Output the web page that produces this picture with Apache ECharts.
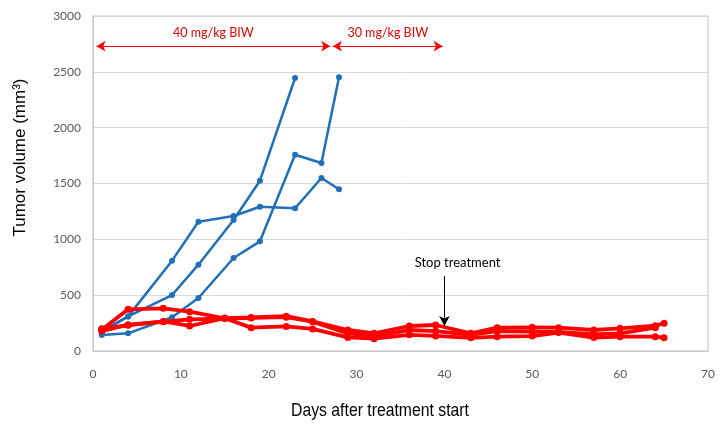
<!DOCTYPE html>
<html><head><meta charset="utf-8">
<script src="https://cdn.jsdelivr.net/npm/echarts@6/dist/echarts.min.js"></script>
<style>html,body{margin:0;padding:0;background:#fff}#c{width:728px;height:435px}</style>
</head><body><div id="c"></div>
<script>
// ---- data ----
const xTicks = [0, 10, 20, 30, 40, 50, 60, 70];
const yTicks = [0, 500, 1000, 1500, 2000, 2500, 3000];

const blueDays1 = [1, 4, 9, 12, 16, 19, 23, 26, 28];
const blue1 = [170, 310, 809, 1158, 1209, 1292, 1278, 1549, 1448];
const blueDays2 = [1, 4, 9, 12, 16, 19, 23];
const blue2 = [175, 310, 501, 773, 1173, 1525, 2445];
const blueDays3 = [1, 4, 9, 12, 16, 19, 23, 26, 28];
const blue3 = [143, 158, 302, 475, 833, 982, 1758, 1683, 2451];

const redDays = [1, 4, 8, 11, 15, 18, 22, 25, 29, 32, 36, 39, 43, 46, 50, 53, 57, 60, 64, 65];
const red1 = [190, 373, 382, 352, 293, 209, 220, 198, 122, 110, 145, 135, 118, 128, 134, 165, 120, 128, 128, 119];
const red2 = [178, 236, 262, 284, 290, 296, 303, 262, 158, 134, 188, 178, 145, 179, 173, 170, 149, 158, 209];
const red3 = [200, 230, 265, 224, 295, 300, 312, 265, 188, 158, 224, 233, 158, 209, 212, 209, 188, 203, 227, 248];

const doseLabels = ['40 mg/kg BIW', '30 mg/kg BIW'];
const doseStart = [0.4, 27.3];
const doseEnd = [27.0, 39.8];
const doseArrowY = 2730;
const doseLabelY = 2850;

const stopLabel = 'Stop treatment';
const stopDay = 40;
const stopArrowFrom = 672;
const stopArrowTo = 224;
const stopLabelPos = [41.5, 788];

const xTitle = 'Days after treatment start';
const yTitle = 'Tumor volume (mm³)';

// ---- build ----
const zip = (xs, ys) => ys.map((v, i) => [xs[i], v]);
const BLUE = '#1f70b8';
const RED = '#ff0000';

function blueSeries(xs, ys) {
  return {
    type: 'line', data: zip(xs, ys), symbol: 'circle', symbolSize: 6,
    lineStyle: { color: BLUE, width: 2.5 }, itemStyle: { color: BLUE },
    silent: true, z: 2
  };
}
function redSeries(xs, ys) {
  return {
    type: 'line', data: zip(xs, ys), symbol: 'circle', symbolSize: 7,
    lineStyle: { color: RED, width: 3.8 }, itemStyle: { color: RED },
    silent: true, z: 3
  };
}

const chart = echarts.init(document.getElementById('c'), null, { renderer: 'canvas' });
chart.setOption({
  animation: false,
  backgroundColor: '#fff',
  grid: { left: 93, right: 20, top: 16, bottom: 84, show: true, borderColor: '#c4c4c4', borderWidth: 1 },
  graphic: [{
    type: 'text', x: 380, y: 411, scaleX: 0.83, silent: true,
    style: { text: xTitle, fill: '#000', font: '19px "Liberation Sans", Arial, sans-serif', textAlign: 'center', textVerticalAlign: 'middle' }
  }],
  xAxis: {
    type: 'value', min: xTicks[0], max: xTicks[xTicks.length - 1], interval: 10,
    axisLine: { show: true, lineStyle: { color: '#c4c4c4', width: 1 } },
    axisTick: { show: false },
    splitLine: { show: false },
    axisLabel: { color: '#595959', fontFamily: 'Lato', fontSize: 12, margin: 17, formatter: v => String(v) }
  },
  yAxis: {
    type: 'value', min: yTicks[0], max: yTicks[yTicks.length - 1], interval: 500,
    axisLine: { show: true, lineStyle: { color: '#c4c4c4', width: 1 } },
    axisTick: { show: false },
    splitLine: { show: true, lineStyle: { color: '#d9d9d9', width: 1 } },
    axisLabel: { color: '#595959', fontFamily: 'Lato', fontSize: 12, margin: 12, formatter: v => String(v) },
    name: yTitle, nameLocation: 'middle', nameGap: 64, nameRotate: 90,
    nameTextStyle: { color: '#000', fontFamily: 'Liberation Sans', fontSize: 17, padding: [0, 0, 0, 52] }
  },
  series: [
    blueSeries(blueDays1, blue1),
    blueSeries(blueDays2, blue2),
    blueSeries(blueDays3, blue3),
    redSeries(redDays, red1),
    redSeries(redDays, red2),
    redSeries(redDays, red3),
    {
      type: 'scatter', data: [], silent: true, z: 5,
      markLine: {
        silent: true, symbol: ['arrow', 'arrow'], symbolSize: [8, 9],
        lineStyle: { color: RED, width: 1, type: 'solid' }, label: { show: false },
        data: doseLabels.map((t, i) => [{ coord: [doseStart[i], doseArrowY] }, { coord: [doseEnd[i], doseArrowY] }])
      },
      markPoint: {
        silent: true, symbol: 'circle', symbolSize: 0,
        label: { show: true, position: 'inside', formatter: '{b}', color: '#e60000', fontFamily: 'Lato', fontSize: 12.5 },
        data: doseLabels.map((t, i) => ({ name: t, coord: [(doseStart[i] + doseEnd[i]) / 2, doseLabelY] }))
      }
    },
    {
      type: 'scatter', data: [], silent: true, z: 5,
      markLine: {
        silent: true, symbol: ['none', 'arrow'], symbolSize: [8, 10],
        lineStyle: { color: '#000', width: 1, type: 'solid' }, label: { show: false },
        data: [[{ coord: [stopDay, stopArrowFrom] }, { coord: [stopDay, stopArrowTo] }]]
      },
      markPoint: {
        silent: true, symbol: 'circle', symbolSize: 0,
        label: { show: true, position: 'inside', formatter: '{b}', color: '#000', fontFamily: 'Lato', fontSize: 13 },
        data: [{ name: stopLabel, coord: stopLabelPos }]
      }
    }
  ]
});
</script>
</body></html>
